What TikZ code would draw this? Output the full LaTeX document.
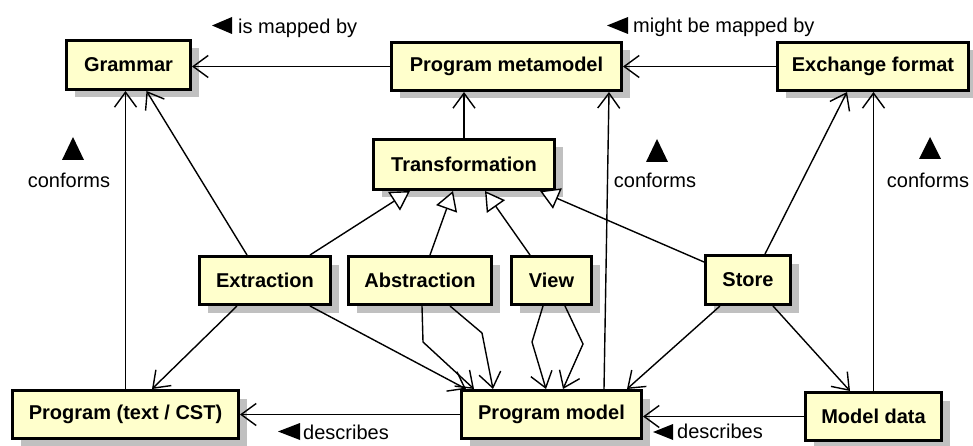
\documentclass[tikz,border=0pt]{standalone}
\usepackage{fontspec}
\setmainfont{Liberation Sans}
\usetikzlibrary{arrows.meta,shadows}
\definecolor{boxfill}{HTML}{FFFFCC}
\definecolor{shadowgray}{HTML}{C0C0C0}
\tikzset{
  box/.style={draw=black, line width=3pt, fill=boxfill, outer sep=1.5pt, inner sep=0pt,
    font=\bfseries\fontsize{20}{24}\selectfont,
    general shadow={fill=shadowgray, shadow xshift=8pt, shadow yshift=-8pt}},
  lbl/.style={font=\fontsize{20}{24}\selectfont, inner sep=0pt},
  link/.style={line width=1.4pt, line join=miter},
  uses/.style={link, -{Straight Barb[length=15pt,width=22pt,line width=1.4pt]}},
  isa/.style={link, -{Triangle[open,fill=white,length=19pt,width=22pt,line width=1.4pt]}},
}
\begin{document}
\begin{tikzpicture}[x=1pt,y=-1pt]
\useasboundingbox (0,0) rectangle (973,446);

% classes
\node[box, minimum width=124pt, minimum height=49pt] (g)    at (128.5,65)   {Grammar};
\node[box, minimum width=230pt, minimum height=48pt] (pm)   at (506.5,66.5) {Program metamodel};
\node[box, minimum width=191pt, minimum height=48pt] (ef)   at (873,66.5)   {Exchange format};
\node[box, minimum width=181pt, minimum height=50pt] (tr)   at (464,164.5)  {Transformation};
\node[box, minimum width=131pt, minimum height=48pt] (ext)  at (265,280.5)  {Extraction};
\node[box, minimum width=143pt, minimum height=48pt] (abs)  at (420,280.5)  {Abstraction};
\node[box, minimum width=80pt,  minimum height=48pt] (view) at (551.5,280.5) {View};
\node[box, minimum width=85pt,  minimum height=49pt] (st)   at (748,280)    {Store};
\node[box, minimum width=226pt, minimum height=48pt] (ptx)  at (125.5,414.5) {Program (text / CST)};
\node[box, minimum width=180pt, minimum height=48pt] (pmod) at (551.5,414.5) {Program model};
\node[box, minimum width=136pt, minimum height=48pt] (md)   at (873.5,416.5) {Model data};

% association labels
\node[lbl, anchor=base west] (lmap)   at (238,34)  {is mapped by};
\node[lbl, anchor=base west] (lmight) at (633,33)  {might be mapped by};
\node[lbl, anchor=base] (lconfA) at (69,188)  {conforms};
\node[lbl, anchor=base] (lconfB) at (655,188) {conforms};
\node[lbl, anchor=base] (lconfC) at (928,188) {conforms};
\node[lbl, anchor=base west] (ldescA) at (303,439) {describes};
\node[lbl, anchor=base west] (ldescB) at (677,438) {describes};

% reading-direction markers
\fill (212,25.5) -- (232,17) -- (232,34) -- cycle;
\fill (607,25.5) -- (628,17) -- (628,34) -- cycle;
\fill (62,160) -- (84,160) -- (73,137) -- cycle;
\fill (646,162) -- (668,162) -- (657,139) -- cycle;
\fill (919,159) -- (941,159) -- (930,137) -- cycle;
\fill (278,431.5) -- (300,423) -- (300,440) -- cycle;
\fill (653,432) -- (673,424) -- (673,440) -- cycle;

% bend points of the doubled links
\coordinate (a1) at (423,342);
\coordinate (a2) at (482,333);
\coordinate (v1) at (532,342);
\coordinate (v2) at (583,344);

% associations
\draw[uses] (pm.west) -- (pm.west -| g.east);
\draw[uses] (ef.west) -- (pm.east |- ef.west);
\draw[uses] (tr.north) -- (tr.north |- pm.south);
\draw[uses] ([xshift=-18pt]ext.north) -- ([xshift=18pt]g.south);
\draw[uses] (ptx.north) -- (ptx.north |- g.south);
\draw[uses] ([xshift=52.5pt]pmod.north) -- ([xshift=102.5pt]pm.south);
\draw[uses] (md.north) -- (md.north |- ef.south);
\draw[uses] ([xshift=17pt]st.north) -- ([xshift=-26pt]ef.south);

% generalizations
\draw[isa] ([xshift=45pt]ext.north) -- ([xshift=-54pt]tr.south);
\draw[isa] ([xshift=10pt]abs.north) -- ([xshift=-11pt]tr.south);
\draw[isa] ([xshift=-21.5pt]view.north) -- ([xshift=21pt]tr.south);
\draw[isa] ([yshift=18pt]st.west) -- ([xshift=76pt]tr.south);

% produced models
\draw[uses] ([xshift=-28pt]ext.south) -- ([xshift=26.5pt]ptx.north);
\draw[uses] ([xshift=45pt]ext.south) -- ([xshift=6pt]pmod.north west);
\draw[uses] ([xshift=2pt]abs.south) -- (a1) -- ([xshift=-77.5pt]pmod.north);
\draw[uses] ([xshift=30pt]abs.south) -- (a2) -- ([xshift=-58.5pt]pmod.north);
\draw[uses] ([xshift=-8.5pt]view.south) -- (v1) -- ([xshift=-5.5pt]pmod.north);
\draw[uses] ([xshift=13.5pt]view.south) -- (v2) -- ([xshift=11.5pt]pmod.north);
\draw[uses] ([xshift=-28pt]st.south) -- ([xshift=75.5pt]pmod.north);
\draw[uses] ([xshift=25pt]st.south) -- ([xshift=-23.5pt]md.north);

% describes
\draw[uses] (pmod.west) -- (pmod.west -| ptx.east);
\draw[uses] (md.west) -- (md.west -| pmod.east);
\end{tikzpicture}
\end{document}
